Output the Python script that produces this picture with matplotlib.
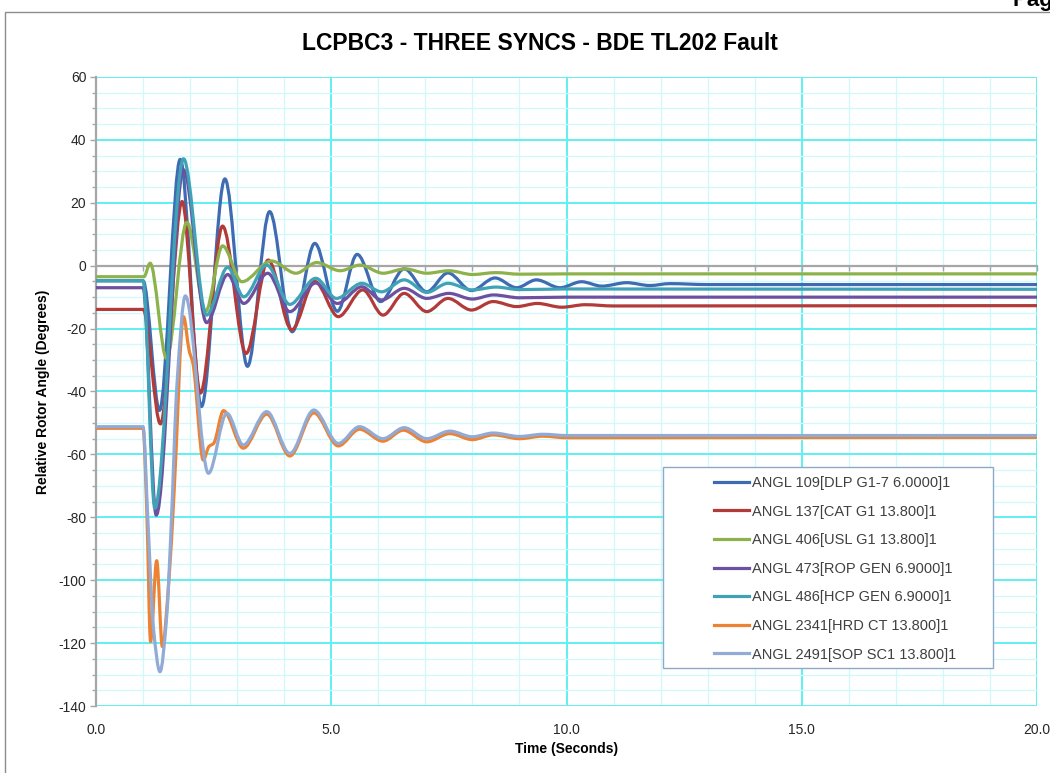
import numpy as np
import matplotlib
matplotlib.use("Agg")
import matplotlib.pyplot as plt
from matplotlib.path import Path
from matplotlib.patches import PathPatch, Rectangle
from matplotlib.lines import Line2D
from matplotlib.ticker import MultipleLocator, FixedLocator

# ---------------- data ----------------
title = "LCPBC3 - THREE SYNCS - BDE TL202 Fault"
x_label = "Time (Seconds)"
y_label = "Relative Rotor Angle (Degrees)"
x_ticks = [0.0, 5.0, 10.0, 15.0, 20.0]
y_ticks = [60, 40, 20, 0, -20, -40, -60, -80, -100, -120, -140]

names = [
    "ANGL 109[DLP G1-7 6.0000]1",
    "ANGL 137[CAT G1 13.800]1",
    "ANGL 406[USL G1 13.800]1",
    "ANGL 473[ROP GEN 6.9000]1",
    "ANGL 486[HCP GEN 6.9000]1",
    "ANGL 2341[HRD CT 13.800]1",
    "ANGL 2491[SOP SC1 13.800]1",
]

t_dlp = [0, 1.0, 1.35, 1.79, 2.24, 2.74, 3.22, 3.69, 4.17, 4.65, 5.13, 5.55, 6.05, 6.55, 7.03,
         7.48, 7.98, 8.48, 8.94, 9.36, 9.86, 10.32, 10.75, 11.28, 11.77, 12.2, 13.0, 20.0]
v_dlp = [-4.8, -4.8, -46.0, 33.8, -44.8, 27.6, -32.0, 17.2, -21.0, 7.1, -14.5, 3.6, -11.4, -1.0, -8.3,
         -2.3, -7.9, -3.9, -7.0, -4.5, -7.0, -5.1, -6.5, -5.4, -6.3, -5.7, -6.0, -6.0]

t_cat = [0, 1.0, 1.37, 1.83, 2.22, 2.69, 3.19, 3.66, 4.16, 4.65, 5.15, 5.67, 6.1, 6.55, 7.03,
         7.48, 7.98, 8.44, 8.94, 9.38, 9.9, 10.4, 11.0, 20.0]
v_cat = [-13.9, -13.9, -50.3, 20.4, -40.5, 12.6, -27.9, 1.8, -20.4, -5.0, -16.2, -7.7, -15.7, -8.8, -14.6,
         -10.4, -14.1, -11.4, -13.0, -12.0, -13.2, -12.4, -12.8, -12.7]

t_usl = [0, 1.02, 1.15, 1.5, 1.93, 2.33, 2.69, 3.1, 3.73, 4.25, 4.69, 5.19, 5.61, 6.1, 6.57,
         7.03, 7.5, 8.0, 8.5, 9.0, 10.0, 20.0]
v_usl = [-3.5, -3.5, 0.8, -29.5, 13.8, -14.5, 6.3, -5.1, 1.5, -2.4, 1.0, -1.6, 0.2, -2.4, -1.0,
         -2.4, -1.6, -2.8, -2.2, -2.7, -2.6, -2.6]

t_rop = [0, 1.0, 1.28, 1.86, 2.35, 2.8, 3.14, 3.65, 4.12, 4.67, 5.13, 5.65, 6.07, 6.55, 7.03,
         7.5, 8.0, 8.45, 9.0, 10.0, 20.0]
v_rop = [-7.0, -7.0, -79.3, 30.5, -18.1, -2.8, -12.0, -2.4, -14.6, -5.5, -12.0, -6.7, -10.9, -7.2, -10.4,
         -8.8, -10.6, -9.3, -10.2, -10.0, -10.0]

t_hcp = [0, 1.0, 1.25, 1.86, 2.35, 2.8, 3.14, 3.63, 4.12, 4.67, 5.11, 5.65, 6.07, 6.55, 7.03,
         7.48, 8.0, 8.5, 9.0, 10.0, 20.0]
v_hcp = [-4.8, -4.8, -77.1, 34.0, -15.7, -0.5, -9.9, 0.2, -12.3, -4.0, -10.4, -5.6, -8.3, -4.5, -8.5,
         -5.6, -7.7, -6.8, -7.6, -7.4, -7.5]

t_hrd = [0, 1.0, 1.08, 1.16, 1.29, 1.41, 1.55, 1.66, 1.86, 1.98, 2.06, 2.28, 2.40, 2.50, 2.71,
         3.13, 3.63, 4.12, 4.63, 5.15, 5.6, 6.1, 6.53, 7.03, 7.52, 8.0, 8.44, 9.0, 9.5, 10.0, 20.0]
v_hrd = [-51.7, -51.7, -78.0, -119.5, -93.8, -121.1, -100.0, -72.0, -16.2, -27.0, -31.0, -61.8, -57.5, -56.5, -46.1,
         -58.0, -47.2, -60.5, -46.8, -57.3, -52.0, -55.8, -52.3, -56.0, -53.4, -55.3, -53.8, -55.0, -54.2, -54.7, -54.6]

t_sop = [0, 1.0, 1.1, 1.22, 1.36, 1.5, 1.6, 1.72, 1.9, 2.39, 2.78, 3.13, 3.63, 4.12, 4.63, 5.15,
         5.6, 6.1, 6.55, 7.03, 7.52, 8.0, 8.44, 9.0, 9.5, 10.0, 20.0]
v_sop = [-51.2, -51.2, -80.0, -115.0, -129.1, -112.0, -82.0, -38.0, -9.6, -66.0, -46.9, -57.0, -46.4, -59.7, -45.9, -56.5,
         -51.2, -55.0, -51.5, -55.0, -52.6, -54.4, -53.2, -54.3, -53.6, -54.0, -54.0]

series_t = [t_dlp, t_cat, t_usl, t_rop, t_hcp, t_hrd, t_sop]
series_v = [v_dlp, v_cat, v_usl, v_rop, v_hcp, v_hrd, v_sop]
colors = ["#3E6BB1", "#B23B3A", "#8DB24C", "#6D51A0", "#3FA2B7", "#EC8232", "#92AAD6"]


def smooth_path(t, v):
    """Excel-style smoothed line: monotone cubic Hermite segments drawn as Bezier curves."""
    t = np.asarray(t, float)
    v = np.asarray(v, float)
    h = np.diff(t)
    d = np.diff(v) / h
    m = np.zeros_like(v)
    for k in range(1, len(v) - 1):
        if d[k - 1] * d[k] > 0:
            w1 = 2 * h[k] + h[k - 1]
            w2 = h[k] + 2 * h[k - 1]
            m[k] = (w1 + w2) / (w1 / d[k - 1] + w2 / d[k])
    verts = [(t[0], v[0])]
    codes = [Path.MOVETO]
    for k in range(len(h)):
        verts += [(t[k] + h[k] / 3, v[k] + m[k] * h[k] / 3),
                  (t[k + 1] - h[k] / 3, v[k + 1] - m[k + 1] * h[k] / 3),
                  (t[k + 1], v[k + 1])]
        codes += [Path.CURVE4] * 3
    return Path(verts, codes)


plt.rcParams['font.family'] = ['Liberation Sans', 'DejaVu Sans']
plt.rcParams['axes.unicode_minus'] = False

fig = plt.figure(figsize=(10.5, 7.73), dpi=100)
ax = fig.add_axes([96 / 1050, 1 - 706 / 773, 941 / 1050, 629 / 773])

ax.set_xlim(0, 20)
ax.set_ylim(-140, 60)

major_grid = "#5FF0F2"
minor_grid = "#CFF9FA"
axis_gray = "#A6A6A6"

ax.xaxis.set_major_locator(MultipleLocator(5))
ax.xaxis.set_minor_locator(MultipleLocator(1))
ax.yaxis.set_major_locator(FixedLocator(y_ticks))
ax.yaxis.set_minor_locator(MultipleLocator(5))
ax.set_axisbelow(True)
ax.grid(which='major', color=major_grid, lw=1.4)
ax.grid(which='minor', color=minor_grid, lw=0.9)

for s in ['top', 'right']:
    ax.spines[s].set_visible(False)
ax.spines['left'].set_color(axis_gray)
ax.spines['left'].set_linewidth(1.6)
ax.spines['bottom'].set_position(('data', 0))
ax.spines['bottom'].set_color(axis_gray)
ax.spines['bottom'].set_linewidth(1.6)

ax.tick_params(axis='x', which='both', direction='out', length=3.5, width=1, color=axis_gray,
               labelbottom=False)
ax.tick_params(axis='y', which='major', direction='out', length=4, width=1, color=axis_gray,
               labelsize=10, labelcolor='#262626', pad=3)
ax.tick_params(axis='y', which='minor', direction='out', length=3, width=1, color=axis_gray)

sec = ax.secondary_xaxis('bottom')
sec.set_xticks(x_ticks)
sec.set_xticklabels([f"{x:.1f}" for x in x_ticks])
sec.tick_params(length=0, pad=12, labelsize=10, labelcolor='#262626')
sec.spines['bottom'].set_visible(False)
sec.set_xlabel(x_label, fontsize=10, fontweight='bold', labelpad=4)

ax.set_ylabel(y_label, fontsize=10, fontweight='bold', labelpad=6)

for t, v, c in zip(series_t, series_v, colors):
    ax.add_patch(PathPatch(smooth_path(t, v), facecolor='none', edgecolor=c, lw=2.3,
                           capstyle='round', joinstyle='round', zorder=3))

# legend box
ax.add_patch(Rectangle(((663 - 96) / 941, (706 - 668) / 629), (993 - 663) / 941, (668 - 467) / 629,
                       transform=ax.transAxes, facecolor='white', edgecolor='#8FA9C9', lw=1.0, zorder=10))
handles = [Line2D([], [], color=c, lw=2.3) for c in colors]
leg = ax.legend(handles, names, loc='upper left', bbox_to_anchor=((714 - 96) / 941, (706 - 476) / 629),
                frameon=False, borderpad=0, borderaxespad=0, handlelength=2.4, handletextpad=0.2,
                labelspacing=1.0, fontsize=10.5, labelcolor='#404040')
leg.set_zorder(11)

fig.text(540 / 1050, 1 - 43 / 773, title, ha='center', va='center', fontsize=16.5, fontweight='bold')

# chart-area border and cut page header
fig.add_artist(Rectangle((5 / 1050, -0.05), 1.1, 1.05 - 12 / 773, transform=fig.transFigure,
                         facecolor='none', edgecolor='#8C8C8C', lw=1.0, zorder=0))
fig.text(1013 / 1050, 1 - 6 / 773, "Page", fontsize=16, fontweight='bold', va='baseline', ha='left')

fig.savefig("out.png", dpi=100)
